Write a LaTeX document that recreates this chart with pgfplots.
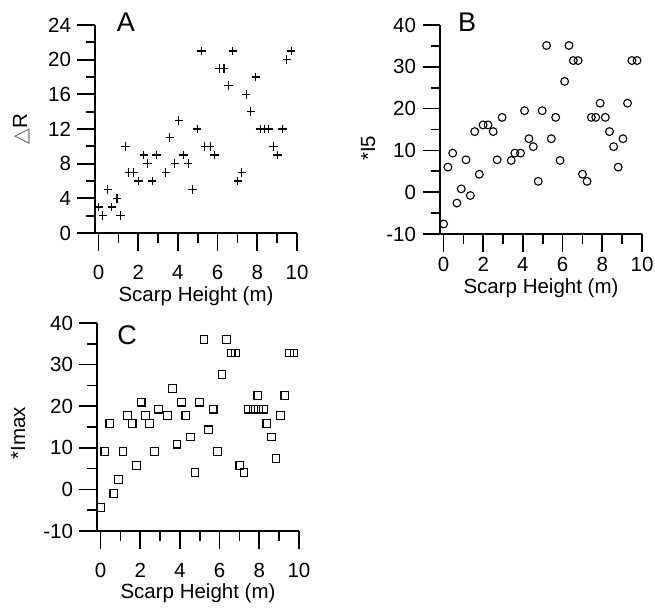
\documentclass[border=0pt]{standalone}
\usepackage{fontspec}
\setmainfont{Liberation Sans}
\newfontfamily\djv{DejaVu Sans}
\usepackage{pgfplots}
\pgfplotsset{compat=1.18}

\pgfplotsset{
  scarp/.style={
    scale only axis,
    anchor=south west,
    width=202pt, height=208pt,
    xmin=-0.18, xmax=10,
    axis lines*=left,
    axis line style={-, line width=1.7pt},
    tick align=outside,
    tick style={line width=1.7pt, black},
    major tick length=17.5pt,
    minor tick length=9.5pt,
    xtick={0,2,...,10},
    minor xtick={1,3,...,9},
    xticklabels={0,2,4,6,8,10},
    tick label style={font=\fontsize{20.5}{24}\selectfont},
    yticklabel style={xshift=-3pt},
    label style={font=\fontsize{20.5}{24}\selectfont},
    xlabel={Scarp Height (m)},
    clip=false,
  },
  pts/.style={only marks, black, line width=1.1pt, mark options={solid}},
}

\begin{document}
\begin{tikzpicture}
\path[use as bounding box] (0pt,0pt) rectangle (655pt,-608pt);

% A
\begin{axis}[scarp, at={(95pt,-233pt)},
  ymin=0, ymax=24,
  ytick={0,4,...,24}, yticklabels={0,4,8,12,16,20,24},
  minor ytick={2,6,...,22},
  xticklabel style={yshift=-11pt},
  xlabel style={at={(axis description cs:0.5,-0.328)}, anchor=base},
  ylabel={{\djv\color{black!60}\char"25B3}R},
  ylabel style={at={(axis description cs:-0.365,0.5)}, anchor=center}]
\addplot[pts, mark=+, mark size=4.2pt] coordinates {
(0,3)(0.22,2)(0.47,5)(0.67,3)(0.93,4)(1.11,2)(1.35,10)(1.52,7)(1.77,7)
(2.02,6)(2.28,9)(2.46,8)(2.70,6)(2.92,9)(3.39,7)(3.59,11)(3.84,8)(4.05,13)
(4.27,9)(4.52,8)(4.74,5)(4.97,12)(5.19,21)(5.36,10)(5.62,10)(5.84,9)
(6.09,19)(6.32,19)(6.54,17)(6.76,21)(7.02,6)(7.22,7)(7.44,16)(7.67,14)
(7.92,18)(8.14,12)(8.35,12)(8.57,12)(8.82,10)(9.02,9)(9.27,12)(9.49,20)(9.71,21)
};
\end{axis}
\node[font=\fontsize{27}{30}\selectfont] at (126pt,-22pt) {A};

% B
\begin{axis}[scarp, at={(440pt,-234pt)}, height=209pt,
  ymin=-10, ymax=40,
  ytick={-10,0,...,40}, yticklabels={-10,0,10,20,30,40},
  minor ytick={-5,5,...,35},
  xticklabel style={yshift=-2pt},
  xlabel style={at={(axis description cs:0.5,-0.284)}, anchor=base},
  ylabel={*I5},
  ylabel style={at={(axis description cs:-0.355,0.41)}, anchor=center}]
\addplot[pts, mark=o, mark size=3.9pt] coordinates {
(0,-7.6)(0.22,6.0)(0.46,9.35)(0.67,-2.6)(0.89,0.8)(1.13,7.75)(1.35,-0.8)
(1.57,14.5)(1.80,4.3)(1.99,16.1)(2.24,16.1)(2.50,14.5)(2.70,7.75)(2.95,17.9)
(3.41,7.6)(3.59,9.35)(3.88,9.35)(4.08,19.5)(4.30,12.8)(4.52,10.9)(4.77,2.6)
(4.97,19.5)(5.19,35.1)(5.43,12.8)(5.65,17.9)(5.87,7.6)(6.10,26.5)(6.32,35.1)
(6.54,31.5)(6.78,31.5)(7.00,4.3)(7.23,2.6)(7.45,17.9)(7.67,17.9)(7.89,21.3)
(8.15,17.9)(8.36,14.5)(8.57,10.9)(8.80,6.0)(9.04,12.8)(9.27,21.3)(9.49,31.5)(9.75,31.5)
};
\end{axis}
\node[font=\fontsize{27}{30}\selectfont] at (467pt,-22pt) {B};

% C
\begin{axis}[scarp, at={(97pt,-531pt)},
  ymin=-10, ymax=40,
  ytick={-10,0,...,40}, yticklabels={-10,0,10,20,30,40},
  minor ytick={-5,5,...,35},
  xticklabel style={yshift=-11pt},
  xlabel style={at={(axis description cs:0.5,-0.325)}, anchor=base},
  ylabel={*Imax},
  ylabel style={at={(axis description cs:-0.39,0.47)}, anchor=center}]
\addplot[pts, mark=square, mark size=3.9pt] coordinates {
(0,-4.3)(0.22,9.1)(0.47,15.9)(0.67,-0.9)(0.91,2.4)(1.13,9.1)(1.35,17.7)
(1.59,15.9)(1.82,5.8)(2.04,21.0)(2.26,17.7)(2.48,15.9)(2.72,9.1)(2.93,19.3)
(3.39,17.7)(3.63,24.3)(3.85,10.9)(4.08,21.0)(4.30,17.7)(4.54,12.6)(4.76,4.1)
(4.99,21.0)(5.21,36.1)(5.45,14.3)(5.67,19.3)(5.90,9.1)(6.12,27.7)(6.34,36.1)
(6.58,32.8)(6.80,32.8)(7.02,5.8)(7.23,4.1)(7.43,19.3)(7.69,19.3)(7.95,19.3)
(7.93,22.6)(8.21,19.3)(8.38,15.9)(8.60,12.6)(8.84,7.5)(9.07,17.7)(9.29,22.6)
(9.53,32.8)(9.75,32.8)
};
\end{axis}
\node[font=\fontsize{27}{30}\selectfont] at (127pt,-335pt) {C};
\end{tikzpicture}
\end{document}
